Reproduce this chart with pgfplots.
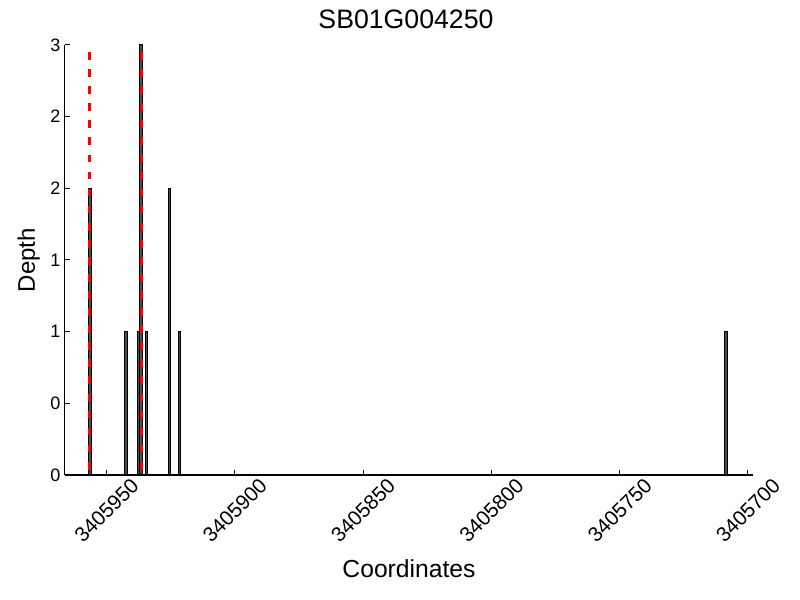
\documentclass[border=0pt]{standalone}
\usepackage{pgfplots}
\pgfplotsset{compat=1.18}
\usepackage{fontspec}
\setmainfont{Liberation Sans}
\definecolor{barfill}{RGB}{80,80,80}
\begin{document}
\begin{tikzpicture}
\path[use as bounding box] (0,0) rectangle (600pt,450pt);
\begin{axis}[
  at={(48.75pt,93.75pt)}, anchor=south west,
  width=516pt, height=322.5pt, scale only axis,
  x dir=reverse,
  xmin=-1.95, xmax=266.2, ymin=0, ymax=3,
  axis x line*=bottom, axis y line*=left,
  axis line style={-, line width=0.75pt, black},
  tick align=inside, major tick length=3.75pt,
  tick style={black, line width=0.75pt},
  /pgf/number format/assume math mode=true,
  xtick={0,50,100,150,200,250},
  xticklabels={3405700,3405750,3405800,3405850,3405900,3405950},
  ytick={0,0.5,1,1.5,2,2.5,3},
  yticklabels={0,0,1,1,2,2,3},
  yticklabel style={font=\fontsize{13.5}{16}\selectfont, anchor=east},
  xticklabel style={font=\fontsize{15.5}{18}\selectfont, anchor=center, rotate=45},
  xticklabel shift=26.5pt,
  title={SB01G004250},
  title style={font=\fontsize{20}{24}\selectfont, at={(axis description cs:0.4956,1.0186)}, anchor=base},
  xlabel={Coordinates},
  xlabel style={font=\fontsize{18.5}{22}\selectfont, at={(axis description cs:0.5,-0.2388)}, anchor=base},
  ylabel={Depth},
  ylabel style={font=\fontsize{18}{22}\selectfont, at={(axis description cs:-0.0436,0.5)}, anchor=base, rotate=0},
  clip=false,
]
% x = coordinate - 3405700
\addplot[ybar, bar width=1, bar shift=0pt, fill=barfill, draw=black, line width=0.75pt]
  coordinates {(256.5,2) (242.5,1) (237.5,1) (236.5,3) (234.5,1) (225.5,2) (221.5,1) (8.5,1)};
\addplot[red, line width=2.25pt, dash pattern=on 5.8pt off 7pt]
  coordinates {(256.5,2.95) (256.5,0)};
\addplot[red, line width=2.25pt, dash pattern=on 5.8pt off 7pt]
  coordinates {(236.3,2.95) (236.3,0)};
\end{axis}
\end{tikzpicture}
\end{document}
